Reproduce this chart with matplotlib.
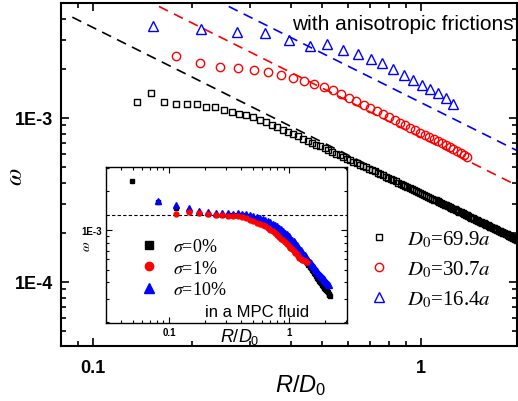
import matplotlib
matplotlib.use('Agg')
import matplotlib.pyplot as plt
import numpy as np
from matplotlib.ticker import LogLocator, FuncFormatter, NullFormatter
from matplotlib.lines import Line2D
from matplotlib.font_manager import FontProperties

plt.rcParams['font.family'] = 'Liberation Sans'
plt.rcParams['mathtext.fontset'] = 'custom'
plt.rcParams['mathtext.rm'] = 'Liberation Sans'
plt.rcParams['mathtext.it'] = 'Liberation Sans:italic'

# radial positions R (in units of a), shared by all series
R = [1.5, 2.5, 3.5, 4.5, 5.5, 6.5, 7.5, 8.5, 9.5, 10.5,
     11.5, 12.5, 13.5, 14.5, 15.5, 16.5, 17.5, 18.5, 19.5, 20.5,
     21.5, 22.5, 23.5, 24.5, 25.5, 26.5, 27.5, 28.5, 29.5, 30.5,
     31.5, 32.5, 33.5, 34.5, 35.5, 36.5, 37.5, 38.5, 39.5, 40.5,
     41.5, 42.5, 43.5, 44.5, 45.5, 46.5, 47.5, 48.5, 49.5, 50.5,
     51.5, 52.5, 53.5, 54.5, 55.5, 56.5, 57.5, 58.5, 59.5, 60.5,
     61.5, 62.5, 63.5, 64.5, 65.5, 66.5, 67.5, 68.5, 69.5, 70.5,
     71.5, 72.5, 73.5, 74.5, 75.5, 76.5, 77.5, 78.5, 79.5, 80.5,
     81.5, 82.5, 83.5, 84.5, 85.5, 86.5, 87.5, 88.5, 89.5, 90.5,
     91.5, 92.5, 93.5, 94.5, 95.5, 96.5, 97.5, 98.5, 99.5, 100.5,
     101.5, 102.5, 103.5, 104.5, 105.5, 106.5, 107.5, 108.5, 109.5, 110.5,
     111.5, 112.5, 113.5, 114.5, 115.5, 116.5, 117.5, 118.5, 119.5, 120.5,
     121.5, 122.5, 123.5, 124.5, 125.5, 126.5, 127.5, 128.5, 129.5, 130.5,
     131.5, 132.5, 133.5, 134.5, 135.5, 136.5, 137.5, 138.5, 139.5]

D0 = [69.9, 30.7, 16.4]
D0_inset = 30.7

# main panel, omega in units of 1e-3
w_black = [1.25, 1.42, 1.25, 1.22, 1.22, 1.21, 1.17, 1.16, 1.12, 1.09, 1.06, 1.04, 1.01, 0.975,
           0.942, 0.909, 0.877, 0.848, 0.821, 0.795, 0.771, 0.748, 0.727, 0.707,
           0.688, 0.670, 0.653, 0.636, 0.620, 0.606, 0.592, 0.578, 0.565, 0.553,
           0.541, 0.530, 0.519, 0.509, 0.499, 0.489, 0.480, 0.472, 0.463, 0.455,
           0.447, 0.439, 0.432, 0.425, 0.418, 0.411, 0.404, 0.398, 0.392, 0.386,
           0.380, 0.375, 0.369, 0.364, 0.359, 0.354, 0.349, 0.344, 0.340, 0.335,
           0.331, 0.326, 0.322, 0.318, 0.314, 0.310, 0.307, 0.303, 0.2995, 0.2959,
           0.2926, 0.2892, 0.2861, 0.2828, 0.2798, 0.2767, 0.2739, 0.2708, 0.2679, 0.2653,
           0.2624, 0.2599, 0.2572, 0.2545, 0.2522, 0.2496, 0.2471, 0.2449, 0.2425, 0.2401,
           0.2380, 0.2357, 0.2335, 0.2315, 0.2294, 0.2273, 0.2254, 0.2234, 0.2214, 0.2196,
           0.2177, 0.2158, 0.2142, 0.2123, 0.2105, 0.2089, 0.2072, 0.2055, 0.2040, 0.2023,
           0.2007, 0.1993, 0.1977, 0.1961, 0.1948, 0.1933, 0.1918, 0.1905, 0.1890, 0.1876,
           0.1864, 0.1850, 0.1836, 0.1823, 0.1810, 0.1797, 0.1784]
w_red = [2.39, 2.16, 2.05, 2.02, 1.96, 1.91, 1.83, 1.75, 1.68, 1.61, 1.55, 1.48, 1.40,
         1.33, 1.26, 1.20, 1.15, 1.10, 1.05, 1.01, 0.971, 0.935, 0.901, 0.871, 0.843,
         0.815, 0.790, 0.766, 0.744, 0.723, 0.702, 0.684, 0.666, 0.649, 0.633, 0.614,
         0.595, 0.578]
w_blue = [3.64, 3.49, 3.35, 3.30, 2.99, 2.75, 2.83, 2.60, 2.46, 2.29, 2.16, 1.99,
          1.83, 1.71, 1.59, 1.50, 1.42, 1.32, 1.22]

# power-law guides omega = C / (R/D0)
fit_C = [3.56e-4, 7.6e-4, 1.24e-3]
fit_start = [0.0865, 0.08, 0.08]

# inset (sigma series), omega in units of 1e-3
wi_0 = [2.39, 1.66, 1.48, 1.40, 1.35, 1.33, 1.32, 1.32, 1.31, 1.32, 1.31,
        1.304, 1.279, 1.256, 1.234, 1.206, 1.179, 1.152, 1.128, 1.100, 1.073,
        1.047, 1.021, 0.996, 0.972, 0.947, 0.919, 0.894, 0.867, 0.842, 0.817,
        0.792, 0.767, 0.743, 0.719, 0.696, 0.674, 0.653, 0.633, 0.613, 0.595,
        0.577, 0.559, 0.542, 0.526, 0.511, 0.498, 0.484, 0.471, 0.459, 0.446,
        0.434, 0.423, 0.411, 0.400, 0.392, 0.384, 0.377, 0.370, 0.362, 0.355,
        0.349, 0.341, 0.335, 0.328, 0.322, 0.316]
wi_1 = [1.33, 1.37, 1.35, 1.33, 1.30, 1.30, 1.29, 1.29, 1.28,
        1.275, 1.239, 1.204, 1.171, 1.144, 1.118, 1.093, 1.070, 1.041, 1.009,
        0.979, 0.948, 0.920, 0.891, 0.863, 0.836, 0.810, 0.785, 0.760, 0.736,
        0.714, 0.693, 0.674, 0.654, 0.634, 0.617, 0.605, 0.597, 0.589, 0.582,
        0.574, 0.567]
wi_10 = [1.67, 1.57, 1.47, 1.41, 1.37, 1.35, 1.35, 1.35, 1.34, 1.35,
         1.342, 1.325, 1.309, 1.290, 1.268, 1.248, 1.226, 1.206, 1.181, 1.152,
         1.124, 1.096, 1.070, 1.043, 1.016, 0.986, 0.958, 0.930, 0.904, 0.877,
         0.850, 0.823, 0.797, 0.772, 0.747, 0.723, 0.702, 0.682, 0.663, 0.644,
         0.626, 0.608, 0.591, 0.574, 0.559, 0.547, 0.534, 0.521, 0.509, 0.498,
         0.486, 0.475, 0.464, 0.453, 0.445, 0.437, 0.430, 0.423, 0.417, 0.410,
         0.404, 0.397, 0.391, 0.384]
plateau = 1.30e-3

R = np.array(R)
xb = R[8:] / D0[0]
xr = R[4:42] / D0[1]
xbl = R[1:20] / D0[2]

fig = plt.figure(figsize=(5.18, 4.02), dpi=100)
ax = fig.add_axes([0.1178, 0.1368, 0.8802, 0.8532])

colors = ['black', 'red', 'blue']
for C, x0, c in zip(fit_C, fit_start, colors):
    xf = np.array([x0, 2.0])
    ax.plot(xf, C / xf, ls=(0, (6, 4)), color=c, lw=1.2, zorder=1)

ax.plot(xb, np.array(w_black) * 1e-3, ls='none', marker='s', mfc='none', mec='black',
        ms=5, mew=1, zorder=3)
ax.plot(xr, np.array(w_red) * 1e-3, ls='none', marker='o', mfc='none', mec='red',
        ms=6, mew=1, zorder=3)
ax.plot(xbl, np.array(w_blue) * 1e-3, ls='none', marker='^', mfc='none', mec='blue',
        ms=6.5, mew=1, zorder=3)

ax.set_xscale('log')
ax.set_yscale('log')
ax.set_xlim(0.0799, 1.96)
ax.set_ylim(4.07e-5, 5.02e-3)
for s in ax.spines.values():
    s.set_linewidth(1.5)
ax.tick_params(which='both', direction='in', top=True, right=True, width=1.2)
ax.tick_params(which='major', length=6, labelsize=13)
ax.tick_params(axis='x', which='major', pad=9)
ax.tick_params(axis='y', which='major', pad=6)
ax.tick_params(which='minor', length=3.5)
ax.xaxis.set_major_formatter(FuncFormatter(lambda v, p: '%g' % v))
ax.yaxis.set_major_formatter(FuncFormatter(lambda v, p: '1E%d' % round(np.log10(v))))
ax.xaxis.set_minor_formatter(NullFormatter())
ax.yaxis.set_minor_formatter(NullFormatter())
plt.setp(ax.get_xticklabels() + ax.get_yticklabels(), fontweight='bold')

ax.set_xlabel(r'$R/D_0$', fontsize=17)
ax.xaxis.set_label_coords(0.526, -0.075)
ax.set_ylabel(r'$\omega$', fontsize=18, math_fontfamily='stix', va='center')
ax.yaxis.set_label_coords(-0.101, 0.495)

ax.text(0.993, 0.939, 'with anisotropic frictions', transform=ax.transAxes,
        ha='right', va='center', fontsize=15)

handles = [Line2D([], [], ls='none', marker='s', mfc='none', mec='black', ms=5, mew=1),
           Line2D([], [], ls='none', marker='o', mfc='none', mec='red', ms=6, mew=1),
           Line2D([], [], ls='none', marker='^', mfc='none', mec='blue', ms=6.5, mew=1)]
labels = [r'$D_0$=69.9$a$', r'$D_0$=30.7$a$', r'$D_0$=16.4$a$']
leg_font = FontProperties(family='Liberation Serif', size=15, math_fontfamily='stix')
ax.legend(handles, labels, loc='upper left', bbox_to_anchor=(0.6745, 0.341), frameon=False,
          prop=leg_font, handlelength=1.0, handletextpad=0.85, labelspacing=0.44,
          borderpad=0, borderaxespad=0)

# inset
ins = fig.add_axes([0.2046, 0.194, 0.4653, 0.388])
ins.axhline(plateau, color='black', ls=(0, (3, 2)), lw=0.8, zorder=1)
ins.plot(R[0:67] / D0_inset, np.array(wi_0) * 1e-3, ls='none', marker='s', color='black',
         ms=3.5, zorder=2)
ins.plot(R[1:65] / D0_inset, np.array(wi_10) * 1e-3, ls='none', marker='^', color='blue',
         ms=4, zorder=3)
ins.plot(R[2:43] / D0_inset, np.array(wi_1) * 1e-3, ls='none', marker='o', color='red',
         ms=3.5, zorder=4)
ins.set_xscale('log')
ins.set_yscale('log')
ins.set_xlim(0.0299, 3.04)
ins.set_ylim(1.95e-4, 3.05e-3)
for s in ins.spines.values():
    s.set_linewidth(1.0)
ins.tick_params(which='both', direction='in', top=True, right=True, width=0.8)
ins.tick_params(which='major', length=4, labelsize=7, pad=3)
ins.tick_params(which='minor', length=2)
ins.xaxis.set_major_formatter(FuncFormatter(lambda v, p: '%g' % v))
ins.yaxis.set_major_formatter(FuncFormatter(lambda v, p: '1E%d' % round(np.log10(v))))
ins.xaxis.set_minor_formatter(NullFormatter())
ins.yaxis.set_minor_formatter(NullFormatter())
plt.setp(ins.get_xticklabels() + ins.get_yticklabels(), fontweight='bold')
ins.set_xlabel(r'$R/D_0$', fontsize=13)
ins.xaxis.set_label_coords(0.556, -0.02)
ins.set_ylabel(r'$\omega$', fontsize=10, math_fontfamily='stix', va='center')
ins.yaxis.set_label_coords(-0.083, 0.5)
ins.text(0.41, 0.077, 'in a MPC fluid', transform=ins.transAxes, ha='left', va='center',
         fontsize=12)

ihandles = [Line2D([], [], ls='none', marker='s', color='black', ms=5.5),
            Line2D([], [], ls='none', marker='o', color='red', ms=6),
            Line2D([], [], ls='none', marker='^', color='blue', ms=6.5)]
ilabels = [r'$\sigma$=0%', r'$\sigma$=1%', r'$\sigma$=10%']
ileg_font = FontProperties(family='Liberation Serif', size=13, math_fontfamily='stix')
ins.legend(ihandles, ilabels, loc='upper left', bbox_to_anchor=(0.141, 0.545), frameon=False,
           prop=ileg_font, handlelength=1.0, handletextpad=0.83, labelspacing=0.25,
           borderpad=0, borderaxespad=0)

fig.savefig('out.png', dpi=100)
